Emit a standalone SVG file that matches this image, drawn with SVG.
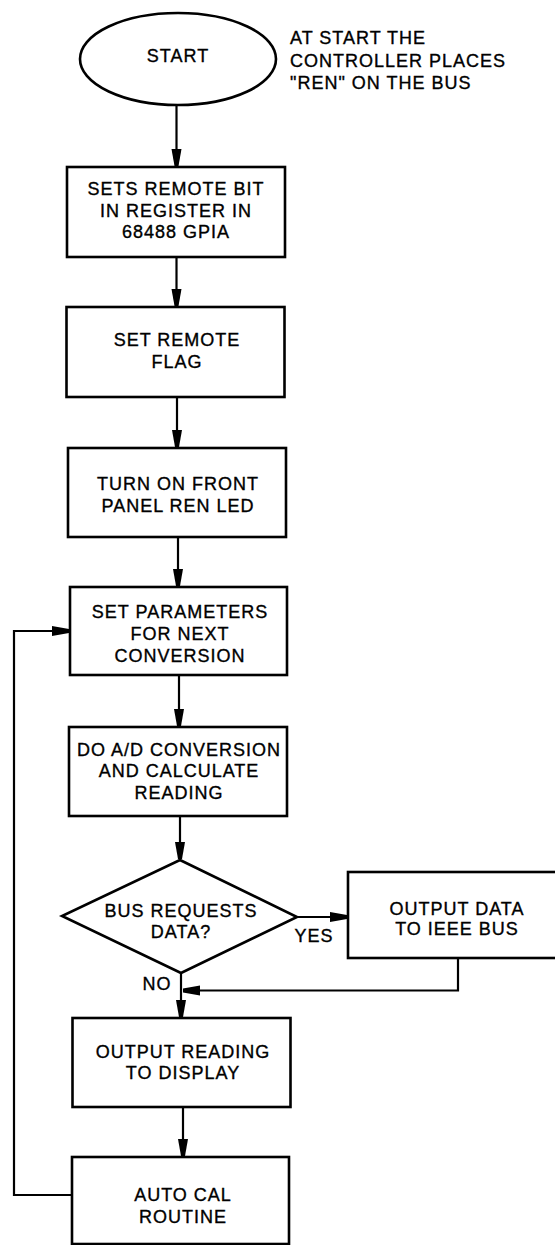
<svg xmlns="http://www.w3.org/2000/svg" width="555" height="1245" viewBox="0 0 555 1245">
<style>
.bg{fill:#fff}
.shape{fill:#fff;stroke:#000;stroke-width:2.6}
.conn{fill:none;stroke:#000;stroke-width:2.2}
text{font-family:"Liberation Sans",Arial,sans-serif;font-size:18px;letter-spacing:1px;fill:#000;stroke:#000;stroke-width:0.35}
.c{text-anchor:middle}
</style>
<defs>
<marker id="arr" markerUnits="userSpaceOnUse" markerWidth="20" markerHeight="12" refX="17" refY="5" orient="auto">
<path d="M0,0 L17,3 L17,7 L0,10 Z" fill="#000"/>
</marker>
</defs>
<rect class="bg" x="0" y="0" width="555" height="1245"/>

<g id="connectors">
<line class="conn" x1="176.5" y1="105" x2="176.5" y2="166" marker-end="url(#arr)"/>
<line class="conn" x1="176.5" y1="257" x2="176.5" y2="306" marker-end="url(#arr)"/>
<line class="conn" x1="177" y1="397" x2="177" y2="447" marker-end="url(#arr)"/>
<line class="conn" x1="178" y1="537" x2="178" y2="586" marker-end="url(#arr)"/>
<line class="conn" x1="179" y1="675" x2="179" y2="726" marker-end="url(#arr)"/>
<line class="conn" x1="180" y1="816" x2="180" y2="859" marker-end="url(#arr)"/>
<line class="conn" x1="297" y1="917" x2="347" y2="917" marker-end="url(#arr)"/>
<polyline class="conn" points="458,958 458,990.5 183,990.5" marker-end="url(#arr)"/>
<line class="conn" x1="181" y1="973" x2="181" y2="1017" marker-end="url(#arr)"/>
<line class="conn" x1="183" y1="1107" x2="183" y2="1156" marker-end="url(#arr)"/>
<polyline class="conn" points="72,1195 14,1195 14,631 69,631" marker-end="url(#arr)"/>
</g>

<g id="start">
<ellipse class="shape" cx="178" cy="59" rx="98" ry="46"/>
<text class="c" x="178" y="62">START</text>
</g>

<g id="note">
<text x="290" y="44">AT START THE</text>
<text x="290" y="66.5">CONTROLLER PLACES</text>
<text x="290" y="88.5">"REN" ON THE BUS</text>
</g>

<g id="sets-remote-bit">
<rect class="shape" x="67" y="167" width="218" height="90"/>
<text class="c" x="176" y="195">SETS REMOTE BIT</text>
<text class="c" x="176" y="217">IN REGISTER IN</text>
<text class="c" x="176" y="238">68488 GPIA</text>
</g>

<g id="set-remote-flag">
<rect class="shape" x="66.5" y="307" width="218" height="90"/>
<text class="c" x="177" y="346">SET REMOTE</text>
<text class="c" x="177" y="368">FLAG</text>
</g>

<g id="turn-on-led">
<rect class="shape" x="68" y="448" width="218" height="89"/>
<text class="c" x="178" y="490">TURN ON FRONT</text>
<text class="c" x="178" y="512">PANEL REN LED</text>
</g>

<g id="set-parameters">
<rect class="shape" x="70" y="587" width="217" height="88"/>
<text class="c" x="180" y="618">SET PARAMETERS</text>
<text class="c" x="180" y="640">FOR NEXT</text>
<text class="c" x="180" y="662">CONVERSION</text>
</g>

<g id="do-ad">
<rect class="shape" x="69" y="727" width="218" height="89"/>
<text class="c" x="179" y="756">DO A/D CONVERSION</text>
<text class="c" x="179" y="777">AND CALCULATE</text>
<text class="c" x="179" y="799">READING</text>
</g>

<g id="bus-requests">
<polygon class="shape" points="180,860 297,917 181,973 62,916"/>
<text class="c" x="181" y="917">BUS REQUESTS</text>
<text class="c" x="181" y="938">DATA?</text>
<text class="c" x="314" y="942">YES</text>
<text class="c" x="157" y="990">NO</text>
</g>

<g id="output-data">
<rect class="shape" x="348" y="872" width="215" height="86"/>
<text class="c" x="457" y="915">OUTPUT DATA</text>
<text class="c" x="457" y="935">TO IEEE BUS</text>
</g>

<g id="output-reading">
<rect class="shape" x="72.5" y="1018" width="218" height="89"/>
<text class="c" x="183" y="1058">OUTPUT READING</text>
<text class="c" x="183" y="1079">TO DISPLAY</text>
</g>

<g id="auto-cal">
<rect class="shape" x="72" y="1157" width="217" height="87"/>
<text class="c" x="183" y="1201">AUTO CAL</text>
<text class="c" x="183" y="1223">ROUTINE</text>
</g>
</svg>
